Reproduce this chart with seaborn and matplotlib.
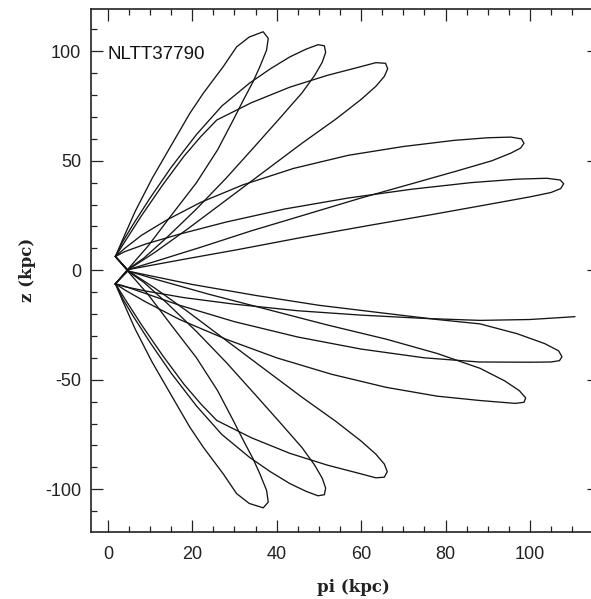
import matplotlib
matplotlib.use("Agg")
import matplotlib.pyplot as plt
from matplotlib.ticker import MultipleLocator
import pandas as pd
import seaborn as sns

# Meridional orbit of NLTT37790: each loop is one radial oscillation,
# traced as (R, z) points in kpc. Loops above the plane run from the
# upper turning cusp out to apocentre, back through the plane crossing
# and on to the lower cusp; loops below the plane mirror that.
A_R = [1.8, 3.5, 6.5, 10.5, 15.0, 19.4, 22.6, 27.3, 30.5, 33.5, 36.8, 38.0, 37.6, 36.0, 34.4, 32.1, 29.7, 26.0, 21.0, 15.0, 9.5, 5.2, 1.9]
A_z = [6.3, 14, 27, 42, 57, 71.6, 80.8, 92.9, 102, 106.5, 108.9, 105.9, 100.5, 92.9, 86.1, 77.7, 68.6, 55, 40, 25, 11, 1.5, -6.0]

B_R = [1.8, 3.5, 6, 10, 15, 21, 27, 33.6, 38.5, 43.1, 47, 49.8, 51.3, 51.6, 50.8, 49, 46, 41, 35, 28, 21, 14, 8.5, 5, 1.7]
B_z = [6.3, 13, 21, 33, 47, 62, 75, 85.5, 92, 97.4, 101, 103, 102.5, 99.5, 95, 89, 81, 70, 57, 42, 28, 15, 5.5, 0.8, -6.3]

C_R = [1.8, 4, 8, 13, 18, 22, 25.8, 34, 43.1, 52, 59, 63.5, 65.8, 66.3, 65.5, 63.5, 60, 54, 46, 37, 28, 19, 11, 5, 1.8]
C_z = [6.3, 13, 25, 39, 52, 61, 68.6, 76.5, 83.6, 89, 92.5, 94.8, 94.5, 92, 88.5, 84, 78, 69, 58, 45, 32, 19, 8, 0.5, -6.1]

D_R = [1.8, 4, 8, 14, 22, 32, 44, 57, 70, 82, 90, 95.5, 98, 98.6, 97.8, 95.5, 91, 83, 72, 60, 47, 34, 22, 12, 5.2, 1.6]
D_z = [6.3, 10, 16, 23, 31, 39, 46.5, 52.5, 56.5, 59.3, 60.5, 60.8, 60, 58, 55.8, 53.5, 50, 45.5, 39.5, 33, 25.5, 18, 10.5, 4.5, 0.5, -6.4]

E_R = [1.8, 4, 9, 17, 28, 42, 57, 72, 86, 97, 104, 107.2, 108, 107.3, 105, 100, 90, 77, 62, 46, 31, 18, 9, 4.8, 1.8]
E_z = [6.3, 8.5, 12, 16.5, 22, 28, 33, 37, 40, 41.6, 42, 41.2, 39.5, 37.3, 35.5, 33.5, 30, 25.5, 20.5, 15, 9.5, 5, 1.8, 0.3, -6.2]

F_R = [1.8, 4, 9, 18, 30, 45, 60, 75, 88.2, 100, 110.7]
F_z = [-6.3, -7.5, -9.5, -12.5, -15.5, -18.5, -20.5, -22, -22.9, -22.5, -21.2]

G_R = [1.9, 5, 10, 20, 35, 50, 65, 78, 88.2, 97, 103.5, 106.8, 107.6, 107, 105, 100, 88, 75, 60, 45, 30, 17, 8, 3.5, 1.8]
G_z = [6.1, -0.5, -2.5, -6.5, -11.5, -16, -19.5, -22.5, -24.5, -29, -33.5, -36.8, -39.5, -41.3, -41.9, -42, -41.9, -40, -36, -30.5, -23.5, -16, -10, -7, -6.2]

H_R = [1.7, 5, 12, 24, 38, 52, 66, 78, 88.2, 94, 97.5, 99, 98.6, 96.5, 88.2, 78, 66, 53, 40, 28, 17, 9, 4, 1.8]
H_z = [6.4, -0.5, -4.5, -11, -18, -25, -31.5, -38, -44.8, -50.5, -55, -58.3, -60.3, -60.8, -59.5, -57.5, -53.5, -47.5, -40, -31.5, -22.5, -14.5, -9, -6.2]

I_R = [1.8, 5, 11, 19, 28, 37, 46, 54, 60, 63.5, 65.5, 66.2, 65.5, 63.5, 59, 52, 43.1, 34, 25.8, 22, 18, 13, 8, 4, 1.8]
I_z = [6.2, -0.5, -8, -19, -32, -45, -58, -69, -78, -84, -88.5, -92, -94.5, -94.8, -92.5, -89, -83.6, -76.5, -68.6, -61, -52, -39, -25, -13, -6.2]

J_R = [1.7, 5, 8.5, 14, 21, 28, 35, 41, 46, 49, 50.8, 51.6, 51.3, 49.8, 47, 43.1, 38.5, 33.6, 27, 21, 15, 10, 6, 3.5, 1.8]
J_z = [6.3, -0.8, -5.5, -15, -28, -42, -57, -70, -81, -89, -95, -99.5, -102.5, -103, -101, -97.4, -92, -85.5, -75, -62, -47, -33, -21, -13, -6.2]

K_R = [1.9, 5.2, 9.5, 15, 21, 26, 29.7, 32.1, 34.4, 36, 37.6, 38, 36.8, 33.5, 30.5, 27.3, 22.6, 19.4, 15, 10.5, 6.5, 3.5, 1.8]
K_z = [6.0, -1.5, -11, -25, -40, -55, -68.6, -77.7, -86.1, -92.9, -100.5, -105.9, -108.5, -106.5, -102, -92.9, -80.8, -71.6, -57, -42, -27, -14, -6.3]

loops = {
    "A": (A_R, A_z), "B": (B_R, B_z), "C": (C_R, C_z), "D": (D_R, D_z),
    "E": (E_R, E_z), "F": (F_R, F_z), "G": (G_R, G_z), "H": (H_R, H_z),
    "I": (I_R, I_z), "J": (J_R, J_z), "K": (K_R, K_z),
}

star_name = "NLTT37790"
x_ticks = [0, 20, 40, 60, 80, 100]
y_ticks = [-100, -50, 0, 50, 100]

frames = []
for name, (r, z) in loops.items():
    frames.append(pd.DataFrame({"R": r, "z": z, "loop": name, "step": range(len(r))}))
orbit = pd.concat(frames, ignore_index=True)

sns.set_style("ticks")
plt.rcParams["font.family"] = ["Liberation Sans", "DejaVu Sans"]

W, H = 591, 599
fig = plt.figure(figsize=(W / 100, H / 100), dpi=100)
left, right, top, bottom = 91, 598.7, 9, 531.7
ax = fig.add_axes([left / W, (H - bottom) / H, (right - left) / W, (bottom - top) / H])

sns.lineplot(data=orbit, x="R", y="z", units="loop", estimator=None, sort=False,
             color="#151515", linewidth=0.95, ax=ax, legend=False)

ax.set_xlim(-4.0, 116.3)
ax.set_ylim(-119.4, 119.3)
ax.set_xticks(x_ticks)
ax.set_yticks(y_ticks)
ax.set_xticklabels([str(v) for v in x_ticks])
ax.set_yticklabels([str(v) for v in y_ticks])
ax.xaxis.set_minor_locator(MultipleLocator(5))
ax.yaxis.set_minor_locator(MultipleLocator(10))
ax.tick_params(which="both", direction="in", top=True, right=True,
               width=0.9, color="#222222", labelcolor="#222222", labelsize=13)
ax.tick_params(axis="x", which="major", length=8.8, pad=10)
ax.tick_params(axis="y", which="major", length=8.8, pad=7)
ax.tick_params(which="minor", length=4.5)
for s in ax.spines.values():
    s.set_visible(True)
    s.set_linewidth(1.2)
    s.set_color("#222222")

ax.set_xlabel("pi (kpc)", family="DejaVu Serif", fontweight="bold", fontsize=12, color="#222222")
ax.set_ylabel("z (kpc)", family="DejaVu Serif", fontweight="bold", fontsize=12, color="#222222")
ax.xaxis.set_label_coords((353 - left) / (right - left), -(588 - bottom) / (bottom - top))
ax.xaxis.label.set_va("center")
ax.yaxis.set_label_coords(-(left - 27) / (right - left), 0.5)
ax.yaxis.label.set_va("center")

ax.text(0.0, 98.3, star_name, ha="left", va="center", fontsize=13.5, color="#111111")

fig.savefig("out.png", dpi=100)
